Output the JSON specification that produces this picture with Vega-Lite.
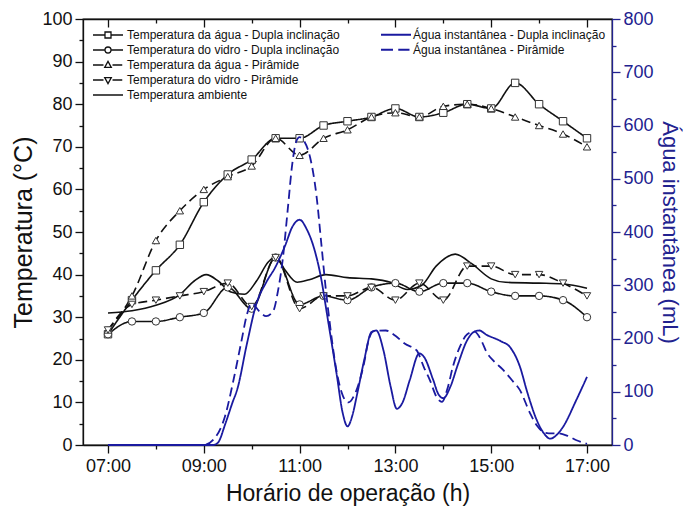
{
  "$schema": "https://vega.github.io/schema/vega-lite/v6.json",
  "autosize": "none",
  "width": 529,
  "height": 426,
  "padding": {"left": 83, "top": 19, "right": 71, "bottom": 68},
  "background": "white",
  "config": {
    "view": {"stroke": "#111", "strokeWidth": 1.3},
    "font": "Liberation Sans",
    "axis": {"labelFont": "Liberation Sans", "titleFont": "Liberation Sans", "labelFontSize": 18, "titleFontSize": 22, "titleFontWeight": "normal", "grid": false, "domainColor": "#111", "tickColor": "#111", "labelColor": "#111", "titleColor": "#111", "domainWidth": 1.3, "tickWidth": 1.3},
    "legend": {"labelFont": "Liberation Sans", "labelFontSize": 12, "labelColor": "#111", "labelLimit": 400, "padding": 0, "symbolSize": 900, "rowPadding": 2, "labelOffset": 3}
  },
  "datasets": {
    "temp": [
      {"h": 7.0, "Temperatura da água - Dupla inclinação": 26, "Temperatura do vidro - Dupla inclinação": 26, "Temperatura da água - Pirâmide": 27, "Temperatura do vidro - Pirâmide": 27},
      {"h": 7.5, "Temperatura da água - Dupla inclinação": 34, "Temperatura do vidro - Dupla inclinação": 29, "Temperatura da água - Pirâmide": 35, "Temperatura do vidro - Pirâmide": 33},
      {"h": 8.0, "Temperatura da água - Dupla inclinação": 41, "Temperatura do vidro - Dupla inclinação": 29, "Temperatura da água - Pirâmide": 48, "Temperatura do vidro - Pirâmide": 34},
      {"h": 8.5, "Temperatura da água - Dupla inclinação": 47, "Temperatura do vidro - Dupla inclinação": 30, "Temperatura da água - Pirâmide": 55, "Temperatura do vidro - Pirâmide": 35},
      {"h": 9.0, "Temperatura da água - Dupla inclinação": 57, "Temperatura do vidro - Dupla inclinação": 31, "Temperatura da água - Pirâmide": 60, "Temperatura do vidro - Pirâmide": 36},
      {"h": 9.5, "Temperatura da água - Dupla inclinação": 63.5, "Temperatura do vidro - Dupla inclinação": 37, "Temperatura da água - Pirâmide": 63, "Temperatura do vidro - Pirâmide": 38},
      {"h": 10.0, "Temperatura da água - Dupla inclinação": 67, "Temperatura do vidro - Dupla inclinação": 32, "Temperatura da água - Pirâmide": 65.5, "Temperatura do vidro - Pirâmide": 32.5},
      {"h": 10.5, "Temperatura da água - Dupla inclinação": 72, "Temperatura do vidro - Dupla inclinação": 44, "Temperatura da água - Pirâmide": 72, "Temperatura do vidro - Pirâmide": 44},
      {"h": 11.0, "Temperatura da água - Dupla inclinação": 72, "Temperatura do vidro - Dupla inclinação": 33, "Temperatura da água - Pirâmide": 68, "Temperatura do vidro - Pirâmide": 32},
      {"h": 11.5, "Temperatura da água - Dupla inclinação": 75, "Temperatura do vidro - Dupla inclinação": 35, "Temperatura da água - Pirâmide": 72, "Temperatura do vidro - Pirâmide": 35},
      {"h": 12.0, "Temperatura da água - Dupla inclinação": 76, "Temperatura do vidro - Dupla inclinação": 34, "Temperatura da água - Pirâmide": 74, "Temperatura do vidro - Pirâmide": 35},
      {"h": 12.5, "Temperatura da água - Dupla inclinação": 77, "Temperatura do vidro - Dupla inclinação": 37, "Temperatura da água - Pirâmide": 77, "Temperatura do vidro - Pirâmide": 37},
      {"h": 13.0, "Temperatura da água - Dupla inclinação": 79, "Temperatura do vidro - Dupla inclinação": 38, "Temperatura da água - Pirâmide": 78, "Temperatura do vidro - Pirâmide": 34},
      {"h": 13.5, "Temperatura da água - Dupla inclinação": 77, "Temperatura do vidro - Dupla inclinação": 36, "Temperatura da água - Pirâmide": 77, "Temperatura do vidro - Pirâmide": 38},
      {"h": 14.0, "Temperatura da água - Dupla inclinação": 78, "Temperatura do vidro - Dupla inclinação": 38, "Temperatura da água - Pirâmide": 79.5, "Temperatura do vidro - Pirâmide": 34},
      {"h": 14.5, "Temperatura da água - Dupla inclinação": 80, "Temperatura do vidro - Dupla inclinação": 38, "Temperatura da água - Pirâmide": 80, "Temperatura do vidro - Pirâmide": 42},
      {"h": 15.0, "Temperatura da água - Dupla inclinação": 79, "Temperatura do vidro - Dupla inclinação": 36, "Temperatura da água - Pirâmide": 79, "Temperatura do vidro - Pirâmide": 42},
      {"h": 15.5, "Temperatura da água - Dupla inclinação": 85, "Temperatura do vidro - Dupla inclinação": 35, "Temperatura da água - Pirâmide": 77, "Temperatura do vidro - Pirâmide": 40},
      {"h": 16.0, "Temperatura da água - Dupla inclinação": 80, "Temperatura do vidro - Dupla inclinação": 35, "Temperatura da água - Pirâmide": 75, "Temperatura do vidro - Pirâmide": 40},
      {"h": 16.5, "Temperatura da água - Dupla inclinação": 76, "Temperatura do vidro - Dupla inclinação": 34, "Temperatura da água - Pirâmide": 73, "Temperatura do vidro - Pirâmide": 38},
      {"h": 17.0, "Temperatura da água - Dupla inclinação": 72, "Temperatura do vidro - Dupla inclinação": 30, "Temperatura da água - Pirâmide": 70, "Temperatura do vidro - Pirâmide": 35}
    ],
    "amb": [
      {"h": 7.0, "t": 31}, {"h": 7.5, "t": 31.5}, {"h": 8.0, "t": 32.8}, {"h": 8.5, "t": 35.3}, {"h": 8.8, "t": 38.5},
      {"h": 9.05, "t": 40}, {"h": 9.3, "t": 38.5}, {"h": 9.55, "t": 36}, {"h": 9.85, "t": 35.4}, {"h": 10.1, "t": 38.5},
      {"h": 10.35, "t": 43}, {"h": 10.5, "t": 44.2}, {"h": 10.7, "t": 41}, {"h": 10.95, "t": 38.2}, {"h": 11.2, "t": 38.8},
      {"h": 11.55, "t": 40}, {"h": 12.0, "t": 39.3}, {"h": 12.5, "t": 39}, {"h": 12.9, "t": 38.2}, {"h": 13.25, "t": 36.5},
      {"h": 13.55, "t": 37.5}, {"h": 13.85, "t": 42}, {"h": 14.25, "t": 44.8}, {"h": 14.6, "t": 42.5}, {"h": 15.0, "t": 39},
      {"h": 15.3, "t": 38.2}, {"h": 16.0, "t": 38}, {"h": 16.5, "t": 37.8}, {"h": 17.0, "t": 36.8}
    ],
    "water": [
      {"h": 7.0, "serie": "Água instantânea - Dupla inclinação", "ml": 0},
      {"h": 8.0, "serie": "Água instantânea - Dupla inclinação", "ml": 0},
      {"h": 9.0, "serie": "Água instantânea - Dupla inclinação", "ml": 0},
      {"h": 9.2, "serie": "Água instantânea - Dupla inclinação", "ml": 0},
      {"h": 9.3, "serie": "Água instantânea - Dupla inclinação", "ml": 5},
      {"h": 9.45, "serie": "Água instantânea - Dupla inclinação", "ml": 40},
      {"h": 9.6, "serie": "Água instantânea - Dupla inclinação", "ml": 80},
      {"h": 9.7, "serie": "Água instantânea - Dupla inclinação", "ml": 105},
      {"h": 9.9, "serie": "Água instantânea - Dupla inclinação", "ml": 190},
      {"h": 10.1, "serie": "Água instantânea - Dupla inclinação", "ml": 266},
      {"h": 10.3, "serie": "Água instantânea - Dupla inclinação", "ml": 305},
      {"h": 10.5, "serie": "Água instantânea - Dupla inclinação", "ml": 335},
      {"h": 10.7, "serie": "Água instantânea - Dupla inclinação", "ml": 375},
      {"h": 10.85, "serie": "Água instantânea - Dupla inclinação", "ml": 410},
      {"h": 11.0, "serie": "Água instantânea - Dupla inclinação", "ml": 423},
      {"h": 11.15, "serie": "Água instantânea - Dupla inclinação", "ml": 405},
      {"h": 11.3, "serie": "Água instantânea - Dupla inclinação", "ml": 370},
      {"h": 11.43, "serie": "Água instantânea - Dupla inclinação", "ml": 322},
      {"h": 11.6, "serie": "Água instantânea - Dupla inclinação", "ml": 230},
      {"h": 11.77, "serie": "Água instantânea - Dupla inclinação", "ml": 135},
      {"h": 11.9, "serie": "Água instantânea - Dupla inclinação", "ml": 60},
      {"h": 12.0, "serie": "Água instantânea - Dupla inclinação", "ml": 35},
      {"h": 12.1, "serie": "Água instantânea - Dupla inclinação", "ml": 55},
      {"h": 12.2, "serie": "Água instantânea - Dupla inclinação", "ml": 95},
      {"h": 12.35, "serie": "Água instantânea - Dupla inclinação", "ml": 160},
      {"h": 12.5, "serie": "Água instantânea - Dupla inclinação", "ml": 212},
      {"h": 12.6, "serie": "Água instantânea - Dupla inclinação", "ml": 215},
      {"h": 12.75, "serie": "Água instantânea - Dupla inclinação", "ml": 178},
      {"h": 12.9, "serie": "Água instantânea - Dupla inclinação", "ml": 110},
      {"h": 13.03, "serie": "Água instantânea - Dupla inclinação", "ml": 68},
      {"h": 13.15, "serie": "Água instantânea - Dupla inclinação", "ml": 80},
      {"h": 13.3, "serie": "Água instantânea - Dupla inclinação", "ml": 122},
      {"h": 13.5, "serie": "Água instantânea - Dupla inclinação", "ml": 172},
      {"h": 13.6, "serie": "Água instantânea - Dupla inclinação", "ml": 165},
      {"h": 13.79, "serie": "Água instantânea - Dupla inclinação", "ml": 122},
      {"h": 13.9, "serie": "Água instantânea - Dupla inclinação", "ml": 95},
      {"h": 14.0, "serie": "Água instantânea - Dupla inclinação", "ml": 88},
      {"h": 14.15, "serie": "Água instantânea - Dupla inclinação", "ml": 110},
      {"h": 14.3, "serie": "Água instantânea - Dupla inclinação", "ml": 150},
      {"h": 14.5, "serie": "Água instantânea - Dupla inclinação", "ml": 197},
      {"h": 14.65, "serie": "Água instantânea - Dupla inclinação", "ml": 213},
      {"h": 14.75, "serie": "Água instantânea - Dupla inclinação", "ml": 215},
      {"h": 14.9, "serie": "Água instantânea - Dupla inclinação", "ml": 207},
      {"h": 15.2, "serie": "Água instantânea - Dupla inclinação", "ml": 195},
      {"h": 15.4, "serie": "Água instantânea - Dupla inclinação", "ml": 183},
      {"h": 15.6, "serie": "Água instantânea - Dupla inclinação", "ml": 147},
      {"h": 15.75, "serie": "Água instantânea - Dupla inclinação", "ml": 100},
      {"h": 15.95, "serie": "Água instantânea - Dupla inclinação", "ml": 47},
      {"h": 16.1, "serie": "Água instantânea - Dupla inclinação", "ml": 22},
      {"h": 16.23, "serie": "Água instantânea - Dupla inclinação", "ml": 12},
      {"h": 16.4, "serie": "Água instantânea - Dupla inclinação", "ml": 22},
      {"h": 16.5, "serie": "Água instantânea - Dupla inclinação", "ml": 34},
      {"h": 16.78, "serie": "Água instantânea - Dupla inclinação", "ml": 85},
      {"h": 17.0, "serie": "Água instantânea - Dupla inclinação", "ml": 128},
      {"h": 7.0, "serie": "Água instantânea - Pirâmide", "ml": 0},
      {"h": 8.0, "serie": "Água instantânea - Pirâmide", "ml": 0},
      {"h": 9.0, "serie": "Água instantânea - Pirâmide", "ml": 0},
      {"h": 9.2, "serie": "Água instantânea - Pirâmide", "ml": 10},
      {"h": 9.44, "serie": "Água instantânea - Pirâmide", "ml": 53},
      {"h": 9.62, "serie": "Água instantânea - Pirâmide", "ml": 122},
      {"h": 9.79, "serie": "Água instantânea - Pirâmide", "ml": 197},
      {"h": 9.9, "serie": "Água instantânea - Pirâmide", "ml": 245},
      {"h": 10.0, "serie": "Água instantânea - Pirâmide", "ml": 266},
      {"h": 10.15, "serie": "Água instantânea - Pirâmide", "ml": 252},
      {"h": 10.3, "serie": "Água instantânea - Pirâmide", "ml": 242},
      {"h": 10.45, "serie": "Água instantânea - Pirâmide", "ml": 252},
      {"h": 10.55, "serie": "Água instantânea - Pirâmide", "ml": 290},
      {"h": 10.65, "serie": "Água instantânea - Pirâmide", "ml": 350},
      {"h": 10.75, "serie": "Água instantânea - Pirâmide", "ml": 440},
      {"h": 10.85, "serie": "Água instantânea - Pirâmide", "ml": 530},
      {"h": 10.93, "serie": "Água instantânea - Pirâmide", "ml": 570},
      {"h": 11.0, "serie": "Água instantânea - Pirâmide", "ml": 578},
      {"h": 11.1, "serie": "Água instantânea - Pirâmide", "ml": 570},
      {"h": 11.22, "serie": "Água instantânea - Pirâmide", "ml": 540},
      {"h": 11.35, "serie": "Água instantânea - Pirâmide", "ml": 470},
      {"h": 11.46, "serie": "Água instantânea - Pirâmide", "ml": 372},
      {"h": 11.55, "serie": "Água instantânea - Pirâmide", "ml": 290},
      {"h": 11.63, "serie": "Água instantânea - Pirâmide", "ml": 229},
      {"h": 11.75, "serie": "Água instantânea - Pirâmide", "ml": 150},
      {"h": 11.91, "serie": "Água instantânea - Pirâmide", "ml": 91},
      {"h": 12.02, "serie": "Água instantânea - Pirâmide", "ml": 80},
      {"h": 12.15, "serie": "Água instantânea - Pirâmide", "ml": 95},
      {"h": 12.33, "serie": "Água instantânea - Pirâmide", "ml": 147},
      {"h": 12.45, "serie": "Água instantânea - Pirâmide", "ml": 200},
      {"h": 12.55, "serie": "Água instantânea - Pirâmide", "ml": 214},
      {"h": 12.8, "serie": "Água instantânea - Pirâmide", "ml": 215},
      {"h": 13.0, "serie": "Água instantânea - Pirâmide", "ml": 205},
      {"h": 13.2, "serie": "Água instantânea - Pirâmide", "ml": 190},
      {"h": 13.44, "serie": "Água instantânea - Pirâmide", "ml": 178},
      {"h": 13.6, "serie": "Água instantânea - Pirâmide", "ml": 145},
      {"h": 13.72, "serie": "Água instantânea - Pirâmide", "ml": 122},
      {"h": 13.85, "serie": "Água instantânea - Pirâmide", "ml": 92},
      {"h": 13.97, "serie": "Água instantânea - Pirâmide", "ml": 81},
      {"h": 14.1, "serie": "Água instantânea - Pirâmide", "ml": 110},
      {"h": 14.2, "serie": "Água instantânea - Pirâmide", "ml": 147},
      {"h": 14.35, "serie": "Água instantânea - Pirâmide", "ml": 185},
      {"h": 14.5, "serie": "Água instantânea - Pirâmide", "ml": 208},
      {"h": 14.65, "serie": "Água instantânea - Pirâmide", "ml": 213},
      {"h": 14.8, "serie": "Água instantânea - Pirâmide", "ml": 195},
      {"h": 14.9, "serie": "Água instantânea - Pirâmide", "ml": 175},
      {"h": 15.05, "serie": "Água instantânea - Pirâmide", "ml": 158},
      {"h": 15.25, "serie": "Água instantânea - Pirâmide", "ml": 141},
      {"h": 15.45, "serie": "Água instantânea - Pirâmide", "ml": 120},
      {"h": 15.6, "serie": "Água instantânea - Pirâmide", "ml": 103},
      {"h": 15.81, "serie": "Água instantânea - Pirâmide", "ml": 60},
      {"h": 15.95, "serie": "Água instantânea - Pirâmide", "ml": 37},
      {"h": 16.1, "serie": "Água instantânea - Pirâmide", "ml": 24},
      {"h": 16.2, "serie": "Água instantânea - Pirâmide", "ml": 22},
      {"h": 16.4, "serie": "Água instantânea - Pirâmide", "ml": 22},
      {"h": 16.6, "serie": "Água instantânea - Pirâmide", "ml": 17},
      {"h": 16.78, "serie": "Água instantânea - Pirâmide", "ml": 9},
      {"h": 17.0, "serie": "Água instantânea - Pirâmide", "ml": 2}
    ]
  },
  "layer": [
    {
      "layer": [
        {
          "data": {"name": "temp"},
          "transform": [{"fold": ["Temperatura da água - Dupla inclinação", "Temperatura do vidro - Dupla inclinação", "Temperatura da água - Pirâmide", "Temperatura do vidro - Pirâmide"], "as": ["serie", "t"]}],
          "mark": {"type": "line", "interpolate": "monotone", "color": "#111", "strokeWidth": 1.6},
          "encoding": {
            "x": {"field": "h", "type": "quantitative", "scale": {"domain": [6.478, 17.522], "nice": false, "zero": false},
              "axis": {"orient": "bottom", "values": [7, 9, 11, 13, 15, 17], "labelExpr": "(datum.value < 10 ? '0' : '') + datum.value + ':00'", "tickSize": 8, "labelPadding": 4, "title": "Horário de operação (h)", "titleFontSize": 23, "titlePadding": 7}},
            "y": {"field": "t", "type": "quantitative", "scale": {"domain": [0, 100], "nice": false, "zero": false},
              "axis": {"orient": "left", "values": [0, 10, 20, 30, 40, 50, 60, 70, 80, 90, 100], "format": "d", "tickSize": 8, "labelPadding": 3, "title": "Temperatura (°C)", "titleFontSize": 25, "titlePadding": 5}},
            "strokeDash": {"field": "serie", "type": "nominal", "scale": {"domain": ["Temperatura da água - Dupla inclinação", "Temperatura do vidro - Dupla inclinação", "Temperatura da água - Pirâmide", "Temperatura do vidro - Pirâmide"], "range": [[1, 0], [1, 0], [9, 5], [9, 5]]}, "legend": null}
          }
        },
        {
          "data": {"name": "amb"},
          "mark": {"type": "line", "interpolate": "monotone", "color": "#111", "strokeWidth": 1.6},
          "encoding": {
            "x": {"field": "h", "type": "quantitative", "scale": {"domain": [6.478, 17.522], "nice": false, "zero": false},
              "axis": {"orient": "top", "values": [8, 10, 12, 14, 16], "labels": false, "tickSize": -4, "domain": false, "title": null}},
            "y": {"field": "t", "type": "quantitative", "scale": {"domain": [0, 100], "nice": false, "zero": false}, "axis": null}
          }
        },
        {
          "data": {"name": "temp"},
          "transform": [{"fold": ["Temperatura da água - Dupla inclinação", "Temperatura do vidro - Dupla inclinação", "Temperatura da água - Pirâmide", "Temperatura do vidro - Pirâmide"], "as": ["serie", "t"]}],
          "mark": {"type": "point", "filled": true, "fill": "white", "stroke": "#333", "strokeWidth": 1, "size": 55, "opacity": 1},
          "encoding": {
            "x": {"field": "h", "type": "quantitative", "scale": {"domain": [6.478, 17.522], "nice": false, "zero": false},
              "axis": {"orient": "bottom", "values": [8, 10, 12, 14, 16], "labels": false, "tickSize": 4, "domain": false, "title": null}},
            "y": {"field": "t", "type": "quantitative", "scale": {"domain": [0, 100], "nice": false, "zero": false},
              "axis": {"orient": "left", "values": [5, 15, 25, 35, 45, 55, 65, 75, 85, 95], "labels": false, "tickSize": 4, "domain": false, "title": null}},
            "shape": {"field": "serie", "type": "nominal", "scale": {"domain": ["Temperatura da água - Dupla inclinação", "Temperatura do vidro - Dupla inclinação", "Temperatura da água - Pirâmide", "Temperatura do vidro - Pirâmide"], "range": ["square", "circle", "triangle-up", "triangle-down"]}, "legend": null}
          }
        },
        {
          "data": {"name": "temp"},
          "transform": [{"fold": ["Temperatura da água - Dupla inclinação", "Temperatura do vidro - Dupla inclinação", "Temperatura da água - Pirâmide", "Temperatura do vidro - Pirâmide"], "as": ["serie", "t"]}],
          "mark": {"type": "point", "filled": false, "color": "#111", "strokeWidth": 1.3, "opacity": 0},
          "encoding": {
            "x": {"field": "h", "type": "quantitative", "scale": {"domain": [6.478, 17.522], "nice": false, "zero": false},
              "axis": {"orient": "top", "values": [7, 9, 11, 13, 15, 17], "labels": false, "tickSize": -8, "title": null}},
            "y": {"field": "t", "type": "quantitative", "scale": {"domain": [0, 100], "nice": false, "zero": false}, "axis": null},
            "shape": {"field": "serie", "type": "nominal",
              "scale": {"domain": ["Temperatura da água - Dupla inclinação", "Temperatura do vidro - Dupla inclinação", "Temperatura da água - Pirâmide", "Temperatura do vidro - Pirâmide", "Temperatura ambiente"],
                "range": ["M-1,0H-0.2M0.2,0H1M-0.2,-0.2H0.2V0.2H-0.2Z", "M-1,0H-0.2M0.2,0H1M-0.2,0A0.2 0.2 0 1 0 0.2,0A0.2 0.2 0 1 0 -0.2,0Z", "M-1,0H-0.3M0.3,0H0.95M0,-0.24L0.22,0.16L-0.22,0.16Z", "M-1,0H-0.3M0.3,0H0.95M0,0.24L0.22,-0.16L-0.22,-0.16Z", "M-1,0H1"]},
              "legend": {"orient": "none", "legendX": 9, "legendY": 9.5, "title": null, "symbolOpacity": 1, "symbolStrokeColor": "#111", "symbolFillColor": "white", "symbolStrokeWidth": 1.3, "clipHeight": 13, "symbolSize": 900, "labelLimit": 400}}
          }
        }
      ],
      "resolve": {"scale": {"shape": "independent"}, "axis": {"x": "independent", "y": "independent"}}
    },
    {
      "layer": [
        {
          "data": {"name": "water"},
          "mark": {"type": "line", "interpolate": "monotone", "color": "#1a1aa0", "strokeWidth": 1.8},
          "encoding": {
            "x": {"field": "h", "type": "quantitative", "scale": {"domain": [6.478, 17.522], "nice": false, "zero": false}, "axis": null},
            "y": {"field": "ml", "type": "quantitative", "scale": {"domain": [0, 800], "nice": false, "zero": false},
              "axis": {"orient": "right", "values": [0, 100, 200, 300, 400, 500, 600, 700, 800], "format": "d", "tickSize": 8, "labelPadding": 3, "title": "Água instantânea (mL)", "titlePadding": 4, "domainColor": "#22228f", "tickColor": "#22228f", "labelColor": "#22228f", "titleColor": "#22228f"}},
            "strokeDash": {"field": "serie", "type": "nominal", "scale": {"domain": ["Água instantânea - Dupla inclinação", "Água instantânea - Pirâmide"], "range": [[1, 0], [9, 5]]}, "legend": null}
          }
        },
        {
          "data": {"name": "water"},
          "mark": {"type": "point", "filled": false, "color": "#1a1aa0", "strokeWidth": 1.8, "opacity": 0},
          "encoding": {
            "x": {"field": "h", "type": "quantitative", "scale": {"domain": [6.478, 17.522], "nice": false, "zero": false}, "axis": null},
            "y": {"field": "ml", "type": "quantitative", "scale": {"domain": [0, 800], "nice": false, "zero": false},
              "axis": {"orient": "right", "values": [50, 150, 250, 350, 450, 550, 650, 750], "labels": false, "tickSize": 4, "domain": false, "title": null, "tickColor": "#22228f"}},
            "shape": {"field": "serie", "type": "nominal",
              "scale": {"domain": ["Água instantânea - Dupla inclinação", "Água instantânea - Pirâmide"], "range": ["M-1,0H1", "M-1,0H-0.2M0.15,0H0.9"]},
              "legend": {"orient": "none", "legendX": 297, "legendY": 9.5, "title": null, "symbolOpacity": 1, "symbolStrokeColor": "#1a1aa0", "symbolStrokeWidth": 1.8, "clipHeight": 12.5, "symbolSize": 900, "labelLimit": 400, "labelOffset": 1}}
          }
        }
      ],
      "resolve": {"scale": {"shape": "independent", "strokeDash": "independent"}, "axis": {"y": "independent"}}
    }
  ],
  "resolve": {"scale": {"y": "independent", "shape": "independent", "strokeDash": "independent"}, "axis": {"x": "independent", "y": "independent"}}
}
